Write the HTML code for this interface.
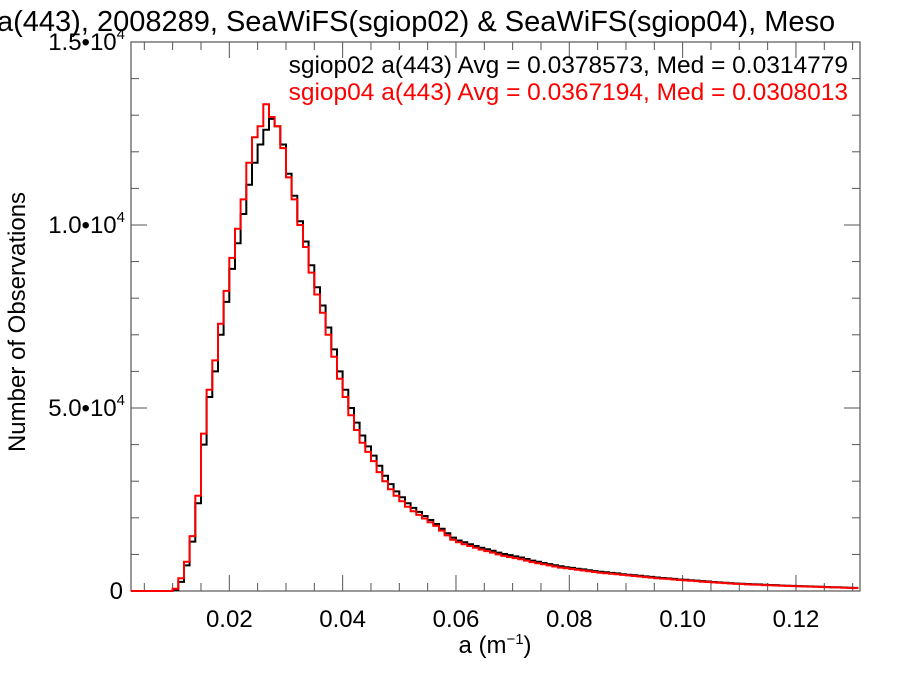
<!DOCTYPE html>
<html><head><meta charset="utf-8"><style>
body{margin:0;background:#fff;}
svg{display:block;font-family:"Liberation Sans",sans-serif;}
</style></head><body>
<svg id="chart" width="900" height="675" viewBox="0 0 900 675">
<text x="-3" y="31" font-size="29" fill="#000">a(443), 2008289, SeaWiFS(sgiop02) &amp; SeaWiFS(sgiop04), Meso</text>
<g id="axes"></g>
<g id="series"></g>
<text x="848" y="73" font-size="24.5" text-anchor="end" fill="#000">sgiop02 a(443) Avg = 0.0378573, Med = 0.0314779</text>
<text x="848" y="100" font-size="24.5" text-anchor="end" fill="#f00">sgiop04 a(443) Avg = 0.0367194, Med = 0.0308013</text>
<text transform="translate(25,322) rotate(-90)" font-size="24" text-anchor="middle">Number of Observations</text>
<text x="495" y="653" font-size="24" text-anchor="middle">a (m<tspan dy="-9" font-size="15">−1</tspan><tspan dy="9">)</tspan></text>
</svg>
<script>
const binStart = 0.002;
const binWidth = 0.001;
const xTicks = [0.02, 0.04, 0.06, 0.08, 0.10, 0.12];
const xTickLabels = ["0.02", "0.04", "0.06", "0.08", "0.10", "0.12"];
const yTicks = [0, 5000, 10000, 15000];
const yTickLabels = ["0", "5.0•10", "1.0•10", "1.5•10"];
const redCounts = [0,0,0,0,0,0,0,0,60,350,800,1500,2600,4300,5500,6300,7300,8200,9100,9900,10700,11700,12400,12700,13300,12950,12700,12100,11300,10700,10000,9400,8700,8100,7600,7000,6400,5800,5300,4800,4400,4050,3800,3550,3250,3000,2780,2600,2450,2300,2180,2080,1980,1880,1780,1650,1520,1400,1330,1280,1230,1180,1130,1090,1050,1000,960,930,900,870,830,790,760,730,700,670,640,620,600,580,560,540,520,500,485,470,455,440,425,410,395,380,365,350,340,330,315,300,290,280,270,255,245,235,225,215,205,195,190,180,175,170,160,155,150,145,140,135,130,125,120,115,110,105,100,95,90,85,80];
const blackCounts = [0,0,0,0,0,0,0,0,30,250,700,1350,2400,4000,5300,6000,7000,7900,8800,9500,10300,11100,11700,12200,12600,12900,12700,12200,11400,10800,10100,9550,8900,8300,7800,7200,6600,6000,5500,5000,4600,4250,3950,3700,3420,3150,2920,2720,2560,2400,2270,2160,2050,1940,1830,1700,1580,1460,1380,1330,1280,1230,1180,1140,1100,1050,1010,980,945,915,875,830,800,765,735,705,675,650,630,610,590,565,545,525,510,495,480,460,445,430,415,400,385,370,355,345,330,315,305,295,285,270,260,245,235,225,215,205,200,190,185,180,170,165,160,150,145,140,135,130,125,120,115,110,105,100,95,90,85];
const xMin = 0.00265, xMax = 0.1313, yMin = 0, yMax = 15000;
const L = 131, R = 860, T = 42, B = 591;
const NS = "http://www.w3.org/2000/svg";
function xScale(v){ return L + (v - xMin) / (xMax - xMin) * (R - L); }
function yScale(v){ return B - (v - yMin) / (yMax - yMin) * (B - T); }
const axes = document.getElementById('axes');
const series = document.getElementById('series');
function mk(tag, attrs, parent){ const e = document.createElementNS(NS, tag); for (const k in attrs) e.setAttribute(k, attrs[k]); parent.appendChild(e); return e; }
const frame = mk('rect', {x:L, y:T, width:R-L, height:B-T, fill:'none', stroke:'#555', 'stroke-width':1.2}, axes);


for (let v = 0.005; v <= xMax; v += 0.005) {
  const x = xScale(v); if (x < L) continue;
  const major = Math.abs(v / 0.02 - Math.round(v / 0.02)) < 1e-6;
  const len = major ? 16 : 8;
  mk('line', {x1:x, x2:x, y1:B, y2:B-len, stroke:'#555', 'stroke-width':1}, axes);
  mk('line', {x1:x, x2:x, y1:T, y2:T+len, stroke:'#555', 'stroke-width':1}, axes);
}
for (let v = 0; v <= yMax; v += 1000) {
  const y = yScale(v);
  const major = v % 5000 === 0;
  const len = major ? 16 : 8;
  mk('line', {x1:L, x2:L+len, y1:y, y2:y, stroke:'#555', 'stroke-width':1}, axes);
  mk('line', {x1:R, x2:R-len, y1:y, y2:y, stroke:'#555', 'stroke-width':1}, axes);
}
xTicks.forEach((v, i) => {
  const t = mk('text', {x:xScale(v), y:627, 'font-size':24, 'text-anchor':'middle'}, axes);
  t.textContent = xTickLabels[i];
  
  
});
yTicks.forEach((v, i) => {
  const t = mk('text', {x:123, y:yScale(v) + 8, 'font-size':24, 'text-anchor':'end'}, axes);
  t.textContent = yTickLabels[i];
  if (v !== 0) {
    const s = mk('tspan', {dy:-11, 'font-size':15}, t); s.textContent = '4';
    t.setAttribute('x', 125);
  }
  
  
});
function stepPath(counts){
  let d = '';
  counts.forEach((c, i) => {
    const x0 = Math.max(xScale(binStart + i * binWidth), L);
    const x1 = Math.min(xScale(binStart + (i + 1) * binWidth), R);
    if (x1 <= L) return;
    const y = yScale(c);
    d += (d === '' ? 'M' : 'L') + x0.toFixed(1) + ',' + y.toFixed(1) + 'L' + x1.toFixed(1) + ',' + y.toFixed(1);
  });
  return d;
}
const pb = mk('path', {d:stepPath(blackCounts), fill:'none', stroke:'#000', 'stroke-width':2}, series);


const pr = mk('path', {d:stepPath(redCounts), fill:'none', stroke:'#f00', 'stroke-width':2}, series);


</script>
</body></html>
